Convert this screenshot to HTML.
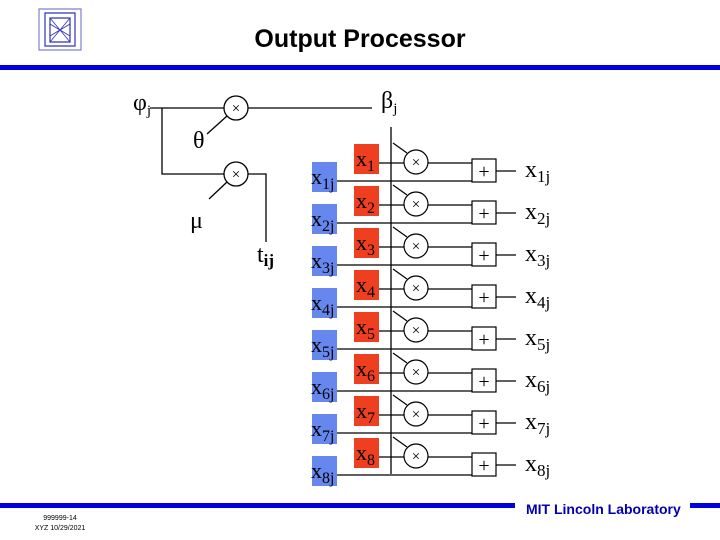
<!DOCTYPE html>
<html><head><meta charset="utf-8"><style>
body{margin:0;background:#fff}
svg{display:block}
.s{font-family:"Liberation Serif",serif}
</style></head><body>
<svg width="720" height="540" viewBox="0 0 720 540" xmlns="http://www.w3.org/2000/svg">
<defs>
<g id="row">
<rect x="312" y="162" width="25" height="30" fill="#6688ee"/>
<rect x="354" y="144" width="25" height="30" fill="#ee4020"/>
<g stroke="#000" stroke-width="1.2" fill="none">
<path d="M379 163H404M428 163H472M337 181H472M496 171H516M393 143L407 153"/>
<circle cx="416" cy="162" r="12"/>
<rect x="472" y="159" width="24" height="23"/>
</g>
<text class="s" x="416" y="167" font-size="15" text-anchor="middle">×</text>
<text class="s" x="484" y="178" font-size="20" text-anchor="middle">+</text>
</g>
</defs>
<rect width="720" height="540" fill="#fff"/>
<g stroke="#3030c0" fill="none" stroke-width="1.2">
<path d="M39 9h42v41h-42z" stroke="#8080d0"/>
<path d="M45 13h30v33h-30z"/>
<path d="M50 18h20v24h-20z"/>
<path d="M50 24l20 12M50 36l20-12M50 18l20 24M70 18l-20 24" stroke-width="0.8"/>
</g>
<text x="360" y="47" text-anchor="middle" font-family="Liberation Sans,sans-serif" font-weight="bold" font-size="25">Output Processor</text>
<rect x="0" y="65" width="720" height="5" fill="#0000e0"/>
<g stroke="#000" stroke-width="1.3" fill="none">
<path d="M150 108H224M248 108H372"/>
<circle cx="236" cy="108" r="12"/>
<path d="M162 108V174H224M248 174H266V242"/>
<circle cx="236" cy="174" r="12"/>
<path d="M207 134L227 116M209 199L227 182"/>
<path d="M391 127V474"/>
</g>
<g font-size="15" text-anchor="middle" class="s">
<text x="236" y="113">×</text><text x="236" y="179">×</text>
</g>
<g class="s" font-size="24">
<text x="133" y="110">φ<tspan font-size="15" dy="5">j</tspan></text>
<text x="381" y="108">β<tspan font-size="15" dy="5">j</tspan></text>
<text x="193" y="148">θ</text>
<text x="190" y="228">μ</text>
<text x="257" y="262">t<tspan font-size="17" dy="4" font-weight="bold">ij</tspan></text>
</g>
<use href="#row" y="0"/><use href="#row" y="42"/><use href="#row" y="84"/><use href="#row" y="126"/>
<use href="#row" y="168"/><use href="#row" y="210"/><use href="#row" y="252"/><use href="#row" y="294"/>
<g class="s">
<g font-size="22">
<text x="311" y="184">x<tspan font-size="16" dy="5">1j</tspan></text>
<text x="311" y="226">x<tspan font-size="16" dy="5">2j</tspan></text>
<text x="311" y="268">x<tspan font-size="16" dy="5">3j</tspan></text>
<text x="311" y="310">x<tspan font-size="16" dy="5">4j</tspan></text>
<text x="311" y="352">x<tspan font-size="16" dy="5">5j</tspan></text>
<text x="311" y="394">x<tspan font-size="16" dy="5">6j</tspan></text>
<text x="311" y="436">x<tspan font-size="16" dy="5">7j</tspan></text>
<text x="311" y="478">x<tspan font-size="16" dy="5">8j</tspan></text>
<text x="356" y="166">x<tspan font-size="16" dy="5">1</tspan></text>
<text x="356" y="208">x<tspan font-size="16" dy="5">2</tspan></text>
<text x="356" y="250">x<tspan font-size="16" dy="5">3</tspan></text>
<text x="356" y="292">x<tspan font-size="16" dy="5">4</tspan></text>
<text x="356" y="334">x<tspan font-size="16" dy="5">5</tspan></text>
<text x="356" y="376">x<tspan font-size="16" dy="5">6</tspan></text>
<text x="356" y="418">x<tspan font-size="16" dy="5">7</tspan></text>
<text x="356" y="460">x<tspan font-size="16" dy="5">8</tspan></text>
</g>
<g font-size="24">
<text x="525" y="177">x<tspan font-size="17" dy="5">1j</tspan></text>
<text x="525" y="219">x<tspan font-size="17" dy="5">2j</tspan></text>
<text x="525" y="261">x<tspan font-size="17" dy="5">3j</tspan></text>
<text x="525" y="303">x<tspan font-size="17" dy="5">4j</tspan></text>
<text x="525" y="345">x<tspan font-size="17" dy="5">5j</tspan></text>
<text x="525" y="387">x<tspan font-size="17" dy="5">6j</tspan></text>
<text x="525" y="429">x<tspan font-size="17" dy="5">7j</tspan></text>
<text x="525" y="471">x<tspan font-size="17" dy="5">8j</tspan></text>
</g>
</g>
<rect x="0" y="503" width="515" height="5" fill="#0000e0"/>
<rect x="690" y="503" width="30" height="5" fill="#0000e0"/>
<text x="526" y="514" font-family="Liberation Sans,sans-serif" font-weight="bold" font-size="14" fill="#0000b0">MIT Lincoln Laboratory</text>
<text x="60" y="520" text-anchor="middle" font-family="Liberation Sans,sans-serif" font-size="7">999999-14</text>
<text x="60" y="530" text-anchor="middle" font-family="Liberation Sans,sans-serif" font-size="7">XYZ 10/29/2021</text>
</svg>
</body></html>
